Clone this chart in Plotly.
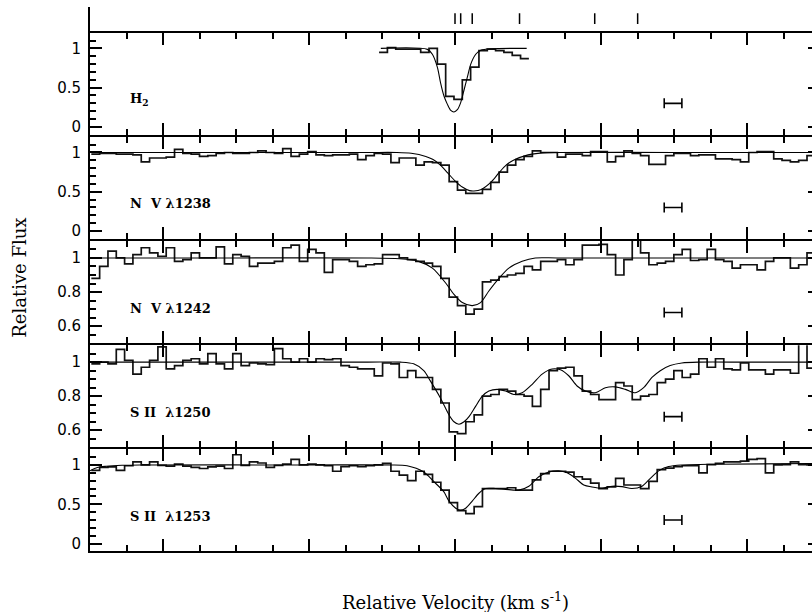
import numpy as np
import plotly.graph_objects as go

# ---------------- data ----------------
# velocity bins of the spectra (km/s)
BIN_START = -249.1
BIN_WIDTH = 5.70
H2_BIN_START = -52.0

h2_flux = [0.95, 1.01, 0.99, 0.99, 0.99, 0.95, 1.00, 0.80, 0.39, 0.35,
           0.60, 0.76, 0.97, 0.99, 0.97, 0.95, 0.91, 0.87]

nv1238_flux = [0.98, 0.99, 0.99, 0.98, 0.98, 0.97, 0.88, 0.93, 0.93, 0.94,
               1.04, 0.99, 0.98, 0.95, 0.96, 0.99, 1.00, 0.99, 0.99, 1.00,
               1.02, 1.00, 0.99, 1.05, 0.95, 0.98, 1.01, 0.97, 0.96, 0.97,
               0.97, 0.98, 0.91, 0.96, 0.99, 0.98, 0.87, 0.93, 0.93, 0.84,
               0.88, 0.87, 0.84, 0.63, 0.52, 0.48, 0.48, 0.53, 0.62, 0.75,
               0.84, 0.91, 0.95, 1.02, 1.00, 1.00, 0.94, 0.98, 0.98, 0.96,
               1.01, 1.01, 0.88, 0.95, 1.02, 0.99, 0.96, 0.85, 0.85, 0.96,
               0.99, 0.99, 0.96, 0.97, 0.97, 0.92, 0.92, 0.91, 0.88, 1.00,
               1.01, 1.01, 0.92, 0.90, 0.88, 0.90, 0.96]

nv1242_flux = [0.88, 0.95, 1.04, 1.00, 0.965, 1.02, 1.06, 1.03, 1.01, 1.06,
               0.98, 0.99, 1.03, 1.00, 1.00, 1.065, 0.965, 1.02, 1.01, 0.95,
               0.97, 0.97, 0.98, 1.06, 1.075, 0.98, 1.05, 1.03, 0.915, 0.99,
               0.99, 0.98, 0.95, 0.96, 0.965, 1.02, 1.02, 1.00, 0.99, 0.98,
               0.97, 0.95, 0.88, 0.77, 0.72, 0.67, 0.70, 0.86, 0.87, 0.89,
               0.90, 0.91, 0.95, 0.93, 0.98, 0.98, 0.99, 0.96, 0.99, 1.075,
               1.075, 1.08, 1.02, 0.90, 0.99, 1.13, 1.03, 0.96, 0.97, 0.98,
               1.02, 1.05, 0.985, 0.99, 1.05, 0.99, 0.98, 0.94, 0.96, 0.96,
               0.93, 0.98, 1.00, 1.00, 0.94, 0.96, 1.03]

sii1250_flux = [0.99, 1.00, 0.99, 1.075, 1.01, 0.93, 0.97, 1.01, 1.09, 0.96,
                0.98, 1.01, 1.02, 0.99, 1.05, 0.99, 0.96, 1.05, 0.98, 0.995,
                0.99, 0.985, 1.08, 1.02, 1.00, 1.02, 1.00, 1.02, 1.015, 1.02,
                0.98, 0.97, 0.96, 0.96, 0.92, 0.995, 0.99, 0.91, 0.95, 0.91,
                0.91, 0.84, 0.76, 0.59, 0.58, 0.65, 0.69, 0.80, 0.81, 0.84,
                0.83, 0.81, 0.80, 0.74, 0.84, 0.95, 0.965, 0.97, 0.92, 0.83,
                0.81, 0.78, 0.78, 0.88, 0.86, 0.78, 0.80, 0.81, 0.88, 0.90,
                0.95, 0.91, 0.93, 1.02, 0.97, 1.02, 0.96, 0.955, 0.995, 0.955,
                0.955, 0.93, 0.955, 0.955, 0.935, 1.13, 0.965]

sii1253_flux = [0.93, 0.97, 0.975, 0.93, 0.99, 1.04, 1.00, 1.04, 0.995, 0.985,
                1.01, 0.985, 0.97, 0.955, 0.975, 0.985, 0.955, 1.13, 0.995, 1.04,
                1.025, 0.97, 0.995, 1.01, 1.07, 1.00, 1.01, 1.00, 0.99, 0.92,
                0.98, 0.99, 0.98, 0.99, 1.00, 1.02, 0.92, 0.87, 0.80, 0.92,
                0.88, 0.78, 0.68, 0.52, 0.42, 0.38, 0.47, 0.70, 0.70, 0.70,
                0.71, 0.68, 0.68, 0.81, 0.89, 0.92, 0.92, 0.91, 0.85, 0.82,
                0.77, 0.70, 0.72, 0.83, 0.745, 0.745, 0.70, 0.79, 0.94, 0.96,
                0.98, 0.99, 0.99, 0.90, 1.005, 1.02, 1.04, 1.04, 1.05, 1.07,
                1.08, 0.90, 1.00, 1.005, 1.04, 1.005, 1.00]

# model fits (profile values)
h2_fit_v = [-50.8, -18.9, -15.5, -12.1, -9.8, -7.5, -5.2, -2.9, -0.7, 1.6,
            3.9, 6.2, 8.5, 10.8, 14.2, 17.6, 25.0, 49.1]
h2_fit_f = [1.0, 0.987, 0.925, 0.761, 0.555, 0.39, 0.287, 0.21, 0.19, 0.22,
            0.31, 0.47, 0.637, 0.80, 0.925, 0.975, 0.995, 1.0]

nv1238_fit_v = [-250, -150, -60, -40, -30, -20, -15, -10, -5, 0, 5, 10, 13, 18,
                25, 30, 35, 40, 50, 60, 70, 150, 250]
nv1238_fit_f = [1.0, 1.0, 1.0, 1.0, 0.99, 0.95, 0.91, 0.84, 0.74, 0.64, 0.56,
                0.515, 0.51, 0.53, 0.63, 0.74, 0.84, 0.90, 0.97, 0.995, 1.0, 1.0, 1.0]

nv1242_fit_v = [-250, -150, -60, -38, -25, -15.5, -6.4, -0.7, 5, 11.9, 17.5,
                23.2, 30.1, 36.9, 46, 55, 70, 150, 250]
nv1242_fit_f = [1.0, 1.0, 1.0, 0.995, 0.98, 0.94, 0.853, 0.786, 0.738, 0.72,
                0.738, 0.806, 0.88, 0.94, 0.98, 1.0, 1.0, 1.0, 1.0]

sii1250_fit_v = [-250, -150, -60, -37.3, -28.3, -21.4, -16.9, -10, -4.1, -0.7,
                 2.7, 6.2, 9.6, 14.1, 18.7, 23.2, 28.9, 34.6, 40.3, 46, 52.9,
                 59.7, 66.5, 72.2, 77.9, 83.6, 89.3, 96.1, 103, 109.8, 116.7,
                 123.5, 129.2, 134.9, 140.6, 147.4, 155.4, 166.8, 200, 250]
sii1250_fit_f = [1.0, 1.0, 1.0, 1.0, 0.99, 0.95, 0.89, 0.79, 0.69, 0.65,
                 0.635, 0.65, 0.68, 0.74, 0.80, 0.83, 0.84, 0.83, 0.81, 0.82, 0.87,
                 0.93, 0.96, 0.955, 0.92, 0.86, 0.83, 0.82, 0.85, 0.855, 0.84,
                 0.82, 0.85, 0.91, 0.95, 0.98, 0.995, 1.0, 1.0, 1.0]

sii1253_fit_v = [-250, -245, -239, -228, -216, -100, -45, -32.8, -21.4, -14.6,
                 -7.7, -4.1, 0.5, 3.9, 7.3, 11.8, 16.4, 21, 27.8, 34.6, 43.7,
                 50.6, 57.4, 64.2, 71.1, 76.8, 82.6, 88.2, 93.9, 100.8, 107.6,
                 114.4, 121.2, 128.1, 133.8, 139.5, 146.3, 155.4, 180, 250]
sii1253_fit_f = [0.925, 0.967, 0.983, 0.996, 1.0, 1.0, 1.0, 0.99, 0.91, 0.79,
                 0.66, 0.54, 0.45, 0.425, 0.45, 0.54, 0.64, 0.70, 0.70, 0.69, 0.68,
                 0.73, 0.85, 0.91, 0.925, 0.90, 0.83, 0.745, 0.72, 0.705, 0.73,
                 0.725, 0.70, 0.73, 0.83, 0.925, 0.98, 1.0, 1.01, 1.02]

panel_labels = ["H<sub>2</sub>", "N  V λ1238", "N  V λ1242", "S II  λ1250", "S II  λ1253"]
label_flux = [0.35, 0.35, 0.705, 0.705, 0.35]
label_v = -224.0

component_v = [0.0, 3.9, 11.8, 44.2, 95.7, 125.1]

resolution_v = [143.3, 155.4]
resolution_flux = [0.30, 0.30, 0.68, 0.68, 0.30]

y_ranges = [[-0.1, 1.2], [-0.1, 1.2], [0.5, 1.1], [0.5, 1.1], [-0.1, 1.2]]
y_major = [[0, 0.5, 1], [0, 0.5, 1], [0.6, 0.8, 1.0], [0.6, 0.8, 1.0], [0, 0.5, 1]]
y_major_text = [["0", "0.5", "1"], ["0", "0.5", "1"], ["0.6", "0.8", "1"],
                ["0.6", "0.8", "1"], ["0", "0.5", "1"]]
minor_wide = [0.1, 0.2, 0.3, 0.4, 0.6, 0.7, 0.8, 0.9, 1.1]
minor_narrow = [0.55, 0.65, 0.7, 0.75, 0.85, 0.9, 0.95, 1.05]
y_minor = [minor_wide, minor_wide, minor_narrow, minor_narrow, minor_wide]

X_RANGE = [-250, 250]

# ---------------- figure ----------------
W, H = 822, 612
ML = 90
LW = 2
# panel boundaries in pixels from top (centre of the separating lines)
bounds_px = [31.7, 136.0, 240.3, 344.7, 449.0, 553.3]
top_region_px = [7.0, 31.7]


def py(p):
    return 1 - p / H


fig = go.Figure()

spectra = [h2_flux, nv1238_flux, nv1242_flux, sii1250_flux, sii1253_flux]
starts = [H2_BIN_START, BIN_START, BIN_START, BIN_START, BIN_START]
fits = [(h2_fit_v, h2_fit_f), (nv1238_fit_v, nv1238_fit_f), (nv1242_fit_v, nv1242_fit_f),
        (sii1250_fit_v, sii1250_fit_f), (sii1253_fit_v, sii1253_fit_f)]

FONT_TICK = dict(family="DejaVu Sans", size=15, color="black")
FONT_LAB = dict(family="DejaVu Serif", size=13, color="black")

for i in range(5):
    n = i + 1
    xa = "x" if n == 1 else f"x{n}"
    ya = "y" if n == 1 else f"y{n}"
    vals = spectra[i]
    edges = starts[i] + BIN_WIDTH * np.arange(len(vals) + 1)
    fig.add_trace(go.Scatter(x=edges, y=list(vals) + [vals[-1]], mode="lines",
                             line=dict(color="#111111", width=1.7, shape="hv"),
                             xaxis=xa, yaxis=ya, showlegend=False, hoverinfo="skip"))
    fv, ff = fits[i]
    fig.add_trace(go.Scatter(x=fv, y=ff, mode="lines",
                             line=dict(color="black", width=1.1, shape="spline", smoothing=0.8),
                             xaxis=xa, yaxis=ya, showlegend=False, hoverinfo="skip"))
    # resolution element
    fig.add_trace(go.Scatter(x=[(resolution_v[0] + resolution_v[1]) / 2], y=[resolution_flux[i]],
                             mode="markers", marker=dict(size=1, color="rgba(0,0,0,0)"),
                             error_x=dict(type="data", array=[(resolution_v[1] - resolution_v[0]) / 2],
                                          color="black", thickness=1.6, width=5),
                             xaxis=xa, yaxis=ya, showlegend=False, hoverinfo="skip"))

    # plot area sits inside the separating lines so neighbouring lines coincide
    top, bot = bounds_px[i] + LW / 2, bounds_px[i + 1] - LW / 2
    fig.layout[f"xaxis{n}"] = dict(
        domain=[0, 1], range=X_RANGE, anchor=ya, showline=True, linewidth=LW, linecolor="black",
        mirror="ticks", ticks="inside", ticklen=12, tickwidth=1.5, tickcolor="black",
        tick0=0, dtick=100, showticklabels=False, showgrid=False, zeroline=False,
        minor=dict(dtick=25, tick0=0, ticks="inside", ticklen=6, tickwidth=1.5, tickcolor="black"),
    )
    fig.layout[f"yaxis{n}"] = dict(
        domain=[py(bot), py(top)], range=y_ranges[i], anchor=xa, showline=True, linewidth=LW,
        linecolor="black", mirror="ticks", ticks="inside", ticklen=12, tickwidth=1.5,
        tickcolor="black", tickmode="array", tickvals=y_major[i], ticktext=y_major_text[i],
        tickfont=FONT_TICK, ticklabelstandoff=4, showgrid=False, zeroline=False,
        minor=dict(tickmode="array", tickvals=y_minor[i], ticks="inside", ticklen=6,
                   tickwidth=1.5, tickcolor="black"),
    )
    fig.add_annotation(x=label_v, y=label_flux[i], xref=xa, yref=ya,
                       text="<b>" + panel_labels[i] + "</b>",
                       showarrow=False, xanchor="left", yanchor="middle", font=FONT_LAB)

# component markers above the top panel
seg_x, seg_y = [], []
for v in component_v:
    seg_x += [v, v, None]
    seg_y += [0.31, 0.745, None]
fig.add_trace(go.Scatter(x=seg_x, y=seg_y, mode="lines", line=dict(color="black", width=1.5),
                         xaxis="x6", yaxis="y6", showlegend=False, hoverinfo="skip"))
fig.layout["xaxis6"] = dict(domain=[0, 1], range=X_RANGE, anchor="y6", visible=False)
fig.layout["yaxis6"] = dict(domain=[py(top_region_px[1]), py(top_region_px[0])], range=[0, 1],
                            anchor="x6", showline=True, linewidth=LW, linecolor="black",
                            ticks="", showticklabels=False, showgrid=False, zeroline=False)

# axis titles
fig.add_annotation(x=(456 - ML) / (W - ML), y=py(601.5), xref="paper", yref="paper",
                   text="Relative Velocity (km s<sup>-1</sup>)", showarrow=False,
                   xanchor="center", yanchor="middle",
                   font=dict(family="DejaVu Serif", size=18, color="black"))
fig.add_annotation(x=(19 - ML) / (W - ML), y=py(278), xref="paper", yref="paper",
                   text="Relative Flux", textangle=-90, showarrow=False,
                   xanchor="center", yanchor="middle",
                   font=dict(family="DejaVu Serif", size=18, color="black"))

fig.update_layout(width=W, height=H, margin=dict(l=ML, r=0, t=0, b=0),
                  paper_bgcolor="white", plot_bgcolor="white", showlegend=False)

fig.write_html("out.html", config={"displayModeBar": False},
               post_script="document.body.style.margin='0';document.body.style.overflow='hidden';")
